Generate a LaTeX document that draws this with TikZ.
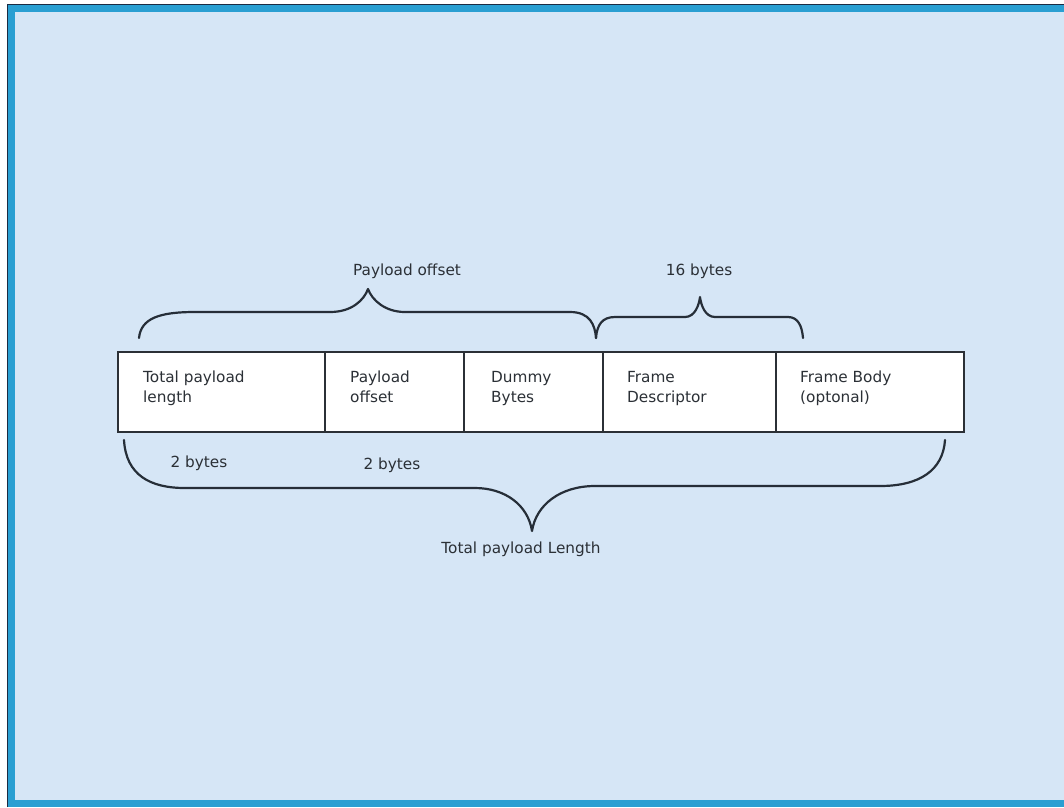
\documentclass[tikz,border=0pt]{standalone}
\usepackage{fontspec}
\setmainfont{DejaVu Sans}
\definecolor{pagebg}{HTML}{D6E6F6}
\definecolor{frameblue}{HTML}{2A9FD2}
\definecolor{framedark}{HTML}{1C2B42}
\definecolor{inkgray}{HTML}{2B3036}
\definecolor{bracegray}{HTML}{262E38}
\begin{document}
\begin{tikzpicture}[x=1pt,y=-1pt,
  cell/.style={draw=inkgray,line width=2.2pt,fill=white,inner sep=0pt,
    minimum height=80pt,anchor=north west},
  celltext/.style={anchor=north west,inner sep=0pt,align=left,text=inkgray,
    font=\fontsize{15.3}{20}\selectfont,
    execute at begin node={\rule{0pt}{12pt}}},
  label/.style={anchor=base,inner sep=0pt,text=inkgray,
    font=\fontsize{15.3}{20}\selectfont},
  bracepath/.style={draw=bracegray,line width=2.2pt,line cap=round,line join=round}]
\useasboundingbox (0,0) rectangle (1064,807);
% page frame
\fill[white] (0,0) rectangle (1064,807);
\fill[frameblue] (7,4) rectangle (1064,807);
\draw[framedark,line width=1.6pt] (7.5,807) -- (7.5,4.5) -- (1064,4.5);
\fill[pagebg] (15,12) rectangle (1064,800);

% the five fields of the frame
\node[cell,minimum width=207pt] (c1) at (117,351) {};
\node[cell,minimum width=139pt] (c2) at (324,351) {};
\node[cell,minimum width=139pt] (c3) at (463,351) {};
\node[cell,minimum width=173pt] (c4) at (602,351) {};
\node[cell,minimum width=188pt] (c5) at (775,351) {};

\node[celltext] (t1) at ([xshift=26pt,yshift=-20pt]c1.north west) {Total payload\\length};
\node[celltext] (t2) at ([xshift=26pt,yshift=-20pt]c2.north west) {Payload\\offset};
\node[celltext] (t3) at ([xshift=28pt,yshift=-20pt]c3.north west) {Dummy\\Bytes};
\node[celltext] (t4) at ([xshift=25pt,yshift=-20pt]c4.north west) {Frame\\Descriptor};
\node[celltext] (t5) at ([xshift=25pt,yshift=-20pt]c5.north west) {Frame Body\\(optonal)};

% braces above the fields
\draw[bracepath] (139,338) .. controls (141,318) and (160,312) .. (195,312)
  -- (330,312) .. controls (352,312) and (364,300) .. (368,289)
  .. controls (372,300) and (385,312) .. (405,312)
  -- (570,312) .. controls (590,312) and (595,325) .. (596,338);
\draw[bracepath] (596,338) .. controls (597,325) and (602,317) .. (615,317)
  -- (685,317) .. controls (695,317) and (699,305) .. (700,297)
  .. controls (701,305) and (705,317) .. (715,317)
  -- (788,317) .. controls (798,317) and (802,326) .. (803,338);
% brace below the fields
\draw[bracepath] (124,440) .. controls (126,475) and (150,488) .. (185,488)
  -- (475,488) .. controls (505,488) and (528,505) .. (532,531)
  .. controls (536,505) and (560,486) .. (595,486)
  -- (880,486) .. controls (920,486) and (943,470) .. (945,440);

\node[label] (lpo) at (407,275) {Payload offset};
\node[label] (l16) at (699,275) {16 bytes};
\node[label] (lb1) at (199,467) {2 bytes};
\node[label] (lb2) at (392,469) {2 bytes};
\node[label] (ltl) at (521,553) {Total payload Length};
\end{tikzpicture}
\end{document}
